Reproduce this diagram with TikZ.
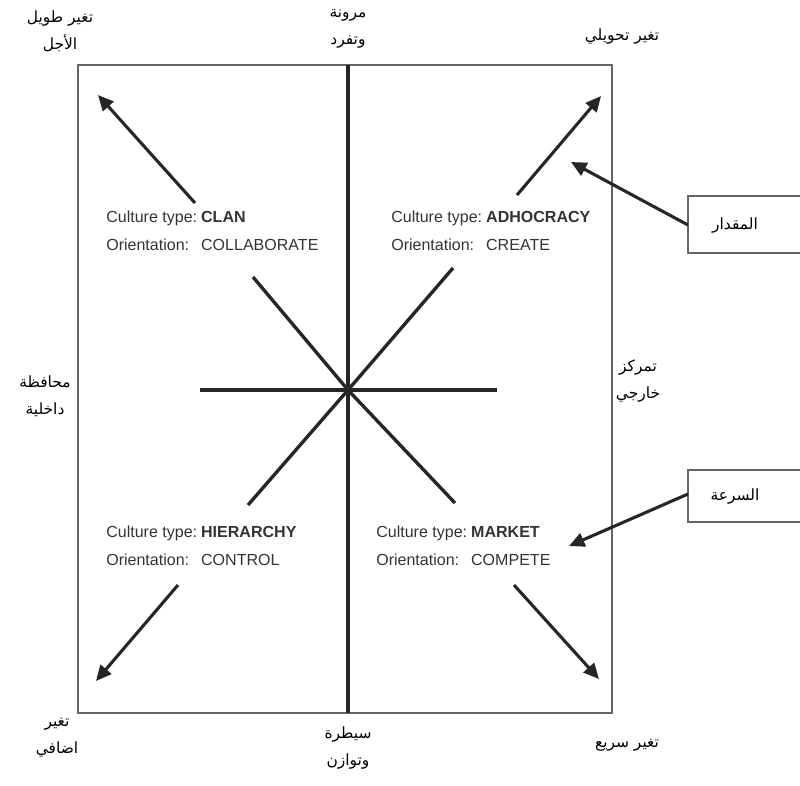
\documentclass[tikz,border=0pt]{standalone}
\usepackage{fontspec}
\setmainfont{Liberation Sans}
\newfontfamily\arabicfont[Script=Arabic]{DejaVu Sans}
\TeXXeTstate=1
\usetikzlibrary{arrows.meta}
\newcommand{\AR}[1]{\beginR #1\endR}
\begin{document}
\begin{tikzpicture}[x=0.025cm,y=-0.025cm,
  axis/.style={line width=2.4pt,black!85},
  arr/.style={line width=2.2pt,black!85,-{Triangle[length=11pt,width=10pt]}},
  frame/.style={draw=black!60,line width=0.9pt},
  ar/.style={font=\arabicfont\fontsize{11}{19}\selectfont,align=center,inner sep=0pt,text=black},
  lbl/.style={font=\fontsize{11.4}{20}\selectfont,anchor=west,inner sep=0pt,text=black!80}
]
\clip (0,0) rectangle (800,785);
\useasboundingbox (0,0) rectangle (800,785);
% frame
\draw[frame] (78,65) rectangle (612,713);
% centre and axis ends
\coordinate (c) at (348,390);
\coordinate (top) at (348,65);
\coordinate (bot) at (348,713);
\coordinate (hl) at (200,390);
\coordinate (hr) at (497,390);
\draw[axis] (top) -- (bot);
\draw[axis] (hl) -- (hr);
% diagonals
\coordinate (ul) at (253,277);
\coordinate (ur) at (453,268);
\coordinate (ll) at (248,505);
\coordinate (lr) at (455,503);
\draw[axis] (c) -- (ul);
\draw[axis] (c) -- (ur);
\draw[axis] (c) -- (ll);
\draw[axis] (c) -- (lr);
% corner arrows
\coordinate (ula) at (195,203); \coordinate (ulb) at (98,95);
\coordinate (ura) at (517,195); \coordinate (urb) at (601,96);
\coordinate (lla) at (178,585); \coordinate (llb) at (96,681);
\coordinate (lra) at (514,585); \coordinate (lrb) at (599,679);
\draw[arr] (ula) -- (ulb);
\draw[arr] (ura) -- (urb);
\draw[arr] (lla) -- (llb);
\draw[arr] (lra) -- (lrb);
% culture labels
\node[lbl] (clan) at (106,231) {\begin{tabular}{@{}l@{\hspace{0.25em}}l@{}}Culture type: & \textbf{CLAN}\\ Orientation: & COLLABORATE\end{tabular}};
\node[lbl] (adho) at (391,231) {\begin{tabular}{@{}l@{\hspace{0.25em}}l@{}}Culture type: & \textbf{ADHOCRACY}\\ Orientation: & CREATE\end{tabular}};
\node[lbl] (hier) at (106,546) {\begin{tabular}{@{}l@{\hspace{0.25em}}l@{}}Culture type: & \textbf{HIERARCHY}\\ Orientation: & CONTROL\end{tabular}};
\node[lbl] (mark) at (376,546) {\begin{tabular}{@{}l@{\hspace{0.25em}}l@{}}Culture type: & \textbf{MARKET}\\ Orientation: & COMPETE\end{tabular}};
% arabic labels
\node[ar] (tl) at (60,31) {\AR{تغير طويل}\\\AR{الأجل}};
\node[ar] (tc) at (348,29) {\AR{مرونة}\\\AR{وتفرد}};
\node[ar] (tr) at (622,37) {\AR{تغير تحويلي}};
\node[ar] (ml) at (45,396) {\AR{محافظة}\\\AR{داخلية}};
\node[ar] (mr) at (638,381) {\AR{تمركز}\\\AR{خارجي}};
\node[ar] (bl) at (57,738) {\AR{تغير}\\\AR{اضافي}};
\node[ar] (bc) at (348,748) {\AR{سيطرة}\\\AR{وتوازن}};
\node[ar] (br) at (627,745) {\AR{تغير سريع}};
% side boxes
\draw[frame] (810,196) -- (688,196) -- (688,253) -- (810,253);
\draw[frame] (810,470) -- (688,470) -- (688,522) -- (810,522);
\node[ar] (b1) at (735,226) {\AR{المقدار}};
\node[ar] (b2) at (735,496) {\AR{السرعة}};
\coordinate (b1w) at (688,225); \coordinate (b1t) at (571,162);
\coordinate (b2w) at (688,494); \coordinate (b2t) at (569,546);
\draw[arr] (b1w) -- (b1t);
\draw[arr] (b2w) -- (b2t);
\end{tikzpicture}
\end{document}
